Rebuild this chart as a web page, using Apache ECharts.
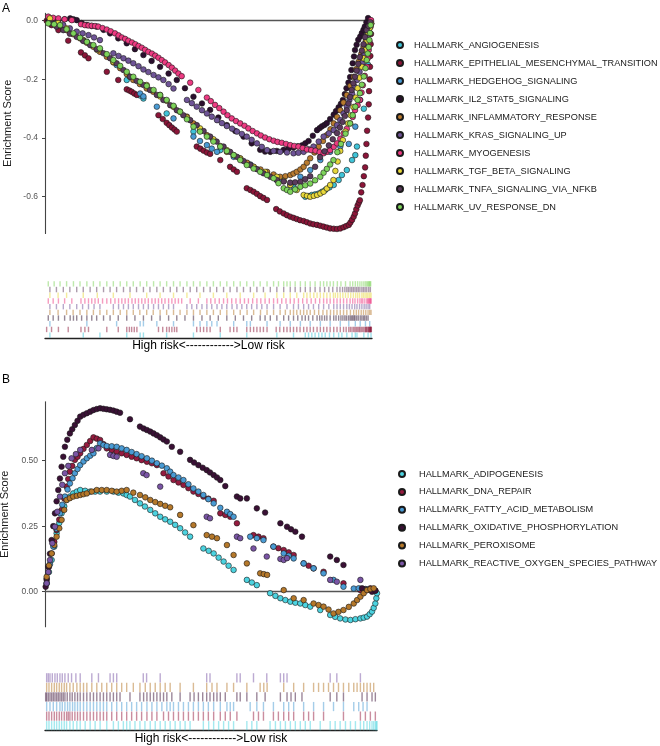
<!DOCTYPE html>
<html><head><meta charset="utf-8">
<script src="https://cdn.jsdelivr.net/npm/echarts@6/dist/echarts.min.js"></script>
<style>html,body{margin:0;padding:0;background:#fff}#c{width:660px;height:746px}</style>
</head><body><div id="c"></div>
<script>
// ---------- Panel A ----------
const namesA = ['HALLMARK_ANGIOGENESIS','HALLMARK_EPITHELIAL_MESENCHYMAL_TRANSITION','HALLMARK_HEDGEHOG_SIGNALING','HALLMARK_IL2_STAT5_SIGNALING','HALLMARK_INFLAMMATORY_RESPONSE','HALLMARK_KRAS_SIGNALING_UP','HALLMARK_MYOGENESIS','HALLMARK_TGF_BETA_SIGNALING','HALLMARK_TNFA_SIGNALING_VIA_NFKB','HALLMARK_UV_RESPONSE_DN'];
const colorsA = ['#40C4D8','#8B1538','#4A9BD4','#2B0F2E','#B87A2E','#6F5497','#EE3A82','#E8D83A','#5B3A5C','#7DD35A'];

const angiogenesis = [[15,0.002],[117,-0.066],[168,-0.100],[250,-0.202],[291,-0.255],[301,-0.265],[372,-0.316],[454,-0.378],[536,-0.441],[617,-0.486],[709,-0.543],[760,-0.566],[796,-0.600],[806,-0.598],[816,-0.594],[826,-0.592],[837,-0.589],[847,-0.583],[857,-0.577],[870,-0.568],[883,-0.560],[898,-0.543],[908,-0.526],[923,-0.509],[939,-0.475],[949,-0.458],[954,-0.429],[975,-0.300],[988,-0.150],[997,-0.010]];
const emt = [[5,0.000],[20,-0.015],[41,-0.032],[71,-0.068],[110,-0.108],[122,-0.118],[133,-0.128],[189,-0.174],[224,-0.202],[250,-0.234],[258,-0.238],[265,-0.242],[273,-0.248],[281,-0.253],[347,-0.322],[360,-0.335],[372,-0.348],[380,-0.356],[388,-0.364],[396,-0.371],[403,-0.378],[464,-0.429],[475,-0.436],[485,-0.443],[495,-0.449],[505,-0.454],[536,-0.475],[566,-0.498],[577,-0.507],[587,-0.515],[617,-0.571],[628,-0.577],[638,-0.583],[648,-0.590],[658,-0.598],[668,-0.604],[679,-0.611],[707,-0.642],[718,-0.650],[730,-0.657],[740,-0.663],[750,-0.668],[760,-0.672],[770,-0.676],[780,-0.680],[791,-0.683],[801,-0.687],[811,-0.691],[821,-0.694],[832,-0.696],[842,-0.699],[852,-0.702],[862,-0.705],[872,-0.708],[883,-0.709],[893,-0.710],[903,-0.708],[913,-0.704],[921,-0.700],[929,-0.696],[934,-0.688],[939,-0.679],[944,-0.668],[948,-0.657],[952,-0.643],[956,-0.630],[960,-0.620],[963,-0.612],[967,-0.585],[971,-0.560],[975,-0.530],[979,-0.500],[981,-0.460],[983,-0.420],[985,-0.375],[988,-0.330],[990,-0.285],[991,-0.240],[993,-0.200],[994,-0.157],[995,-0.120],[996,-0.080],[997,-0.045],[998,-0.010]];
const hedgehog = [[15,0.000],[128,-0.072],[219,-0.151],[291,-0.248],[301,-0.258],[342,-0.293],[393,-0.333],[454,-0.395],[474,-0.410],[495,-0.424],[510,-0.436],[526,-0.447],[577,-0.464],[617,-0.486],[628,-0.490],[679,-0.520],[719,-0.543],[750,-0.560],[781,-0.532],[811,-0.509],[842,-0.475],[872,-0.447],[903,-0.429],[929,-0.420],[949,-0.361],[964,-0.270],[980,-0.157],[993,-0.043]];
const il2stat5 = [[10,0.000],[25,0.001],[41,0.002],[60,0.005],[77,0.008],[87,0.005],[97,0.002],[112,-0.008],[128,-0.015],[143,-0.018],[158,-0.020],[179,-0.031],[199,-0.043],[224,-0.060],[250,-0.077],[275,-0.097],[301,-0.117],[326,-0.137],[352,-0.157],[378,-0.180],[403,-0.202],[428,-0.230],[454,-0.259],[480,-0.282],[505,-0.304],[530,-0.330],[556,-0.356],[582,-0.376],[607,-0.395],[632,-0.418],[658,-0.440],[673,-0.446],[689,-0.447],[709,-0.444],[730,-0.440],[745,-0.436],[760,-0.432],[773,-0.428],[786,-0.425],[796,-0.418],[806,-0.410],[819,-0.392],[832,-0.373],[840,-0.366],[847,-0.360],[855,-0.355],[862,-0.349],[872,-0.335],[883,-0.320],[890,-0.308],[898,-0.295],[905,-0.283],[911,-0.270],[917,-0.250],[922,-0.230],[928,-0.211],[933,-0.192],[937,-0.168],[941,-0.145],[945,-0.122],[948,-0.100],[953,-0.082],[958,-0.065],[964,-0.054],[969,-0.042],[974,-0.031],[978,-0.020],[983,-0.005],[988,0.009]];
const inflammatory = [[15,0.002],[40,-0.015],[66,-0.032],[86,-0.046],[107,-0.060],[128,-0.075],[148,-0.089],[168,-0.106],[189,-0.123],[209,-0.142],[230,-0.162],[250,-0.182],[270,-0.202],[290,-0.216],[311,-0.231],[331,-0.242],[352,-0.253],[372,-0.273],[393,-0.293],[413,-0.310],[434,-0.327],[454,-0.350],[474,-0.373],[495,-0.390],[515,-0.407],[536,-0.427],[556,-0.447],[577,-0.458],[597,-0.469],[618,-0.484],[638,-0.498],[659,-0.507],[679,-0.515],[699,-0.524],[719,-0.532],[735,-0.530],[750,-0.526],[760,-0.521],[770,-0.515],[781,-0.507],[791,-0.498],[801,-0.484],[811,-0.469],[824,-0.449],[837,-0.429],[850,-0.410],[862,-0.390],[873,-0.370],[883,-0.350],[893,-0.328],[903,-0.305],[913,-0.279],[923,-0.253],[934,-0.222],[944,-0.191],[952,-0.165],[959,-0.140],[967,-0.114],[974,-0.089],[981,-0.066],[988,-0.043],[993,-0.023],[997,-0.003]];
const krasUp = [[15,-0.003],[35,-0.008],[56,-0.015],[76,-0.026],[97,-0.037],[115,-0.043],[133,-0.049],[150,-0.057],[168,-0.066],[209,-0.111],[225,-0.120],[240,-0.128],[255,-0.136],[270,-0.145],[286,-0.155],[301,-0.166],[316,-0.175],[332,-0.185],[347,-0.193],[362,-0.202],[378,-0.216],[393,-0.231],[434,-0.270],[449,-0.281],[464,-0.293],[480,-0.305],[495,-0.316],[510,-0.327],[526,-0.339],[541,-0.349],[556,-0.359],[572,-0.368],[587,-0.378],[602,-0.386],[617,-0.395],[632,-0.406],[648,-0.418],[663,-0.430],[679,-0.441],[699,-0.444],[719,-0.447],[740,-0.449],[760,-0.452],[775,-0.450],[791,-0.447],[806,-0.438],[821,-0.429],[837,-0.412],[852,-0.395],[868,-0.384],[883,-0.373],[893,-0.356],[903,-0.339],[913,-0.316],[923,-0.293],[931,-0.270],[939,-0.248],[947,-0.225],[954,-0.202],[962,-0.174],[969,-0.145],[976,-0.110],[982,-0.077],[988,-0.048],[993,-0.020]];
const myogenesis = [[10,0.014],[25,0.010],[41,0.008],[60,0.005],[82,0.002],[110,-0.012],[122,-0.015],[133,-0.016],[143,-0.017],[153,-0.018],[163,-0.020],[176,-0.025],[189,-0.030],[201,-0.036],[214,-0.043],[225,-0.050],[235,-0.057],[245,-0.062],[255,-0.068],[266,-0.074],[276,-0.080],[286,-0.086],[296,-0.092],[306,-0.099],[316,-0.106],[327,-0.112],[337,-0.119],[347,-0.126],[357,-0.134],[367,-0.142],[378,-0.151],[388,-0.160],[398,-0.170],[408,-0.180],[418,-0.189],[444,-0.211],[469,-0.236],[495,-0.262],[507,-0.274],[520,-0.287],[533,-0.298],[546,-0.310],[558,-0.322],[571,-0.333],[584,-0.342],[597,-0.350],[610,-0.358],[622,-0.367],[635,-0.376],[648,-0.384],[660,-0.391],[673,-0.398],[686,-0.404],[699,-0.409],[711,-0.413],[724,-0.416],[737,-0.420],[750,-0.424],[762,-0.427],[775,-0.429],[788,-0.434],[801,-0.439],[814,-0.441],[827,-0.443],[840,-0.448],[852,-0.452],[862,-0.447],[872,-0.441],[883,-0.430],[893,-0.418],[903,-0.402],[913,-0.384],[923,-0.368],[933,-0.350],[941,-0.328],[948,-0.305],[956,-0.288],[963,-0.270],[968,-0.245],[972,-0.220],[978,-0.188],[984,-0.157],[987,-0.128],[990,-0.100],[992,-0.070],[994,-0.042],[996,-0.020],[997,0.002]];
const tgfBeta = [[15,0.008],[40,-0.008],[66,-0.026],[117,-0.066],[160,-0.100],[209,-0.140],[260,-0.191],[311,-0.219],[352,-0.258],[393,-0.293],[434,-0.330],[474,-0.367],[515,-0.404],[556,-0.441],[597,-0.470],[638,-0.498],[673,-0.515],[709,-0.532],[730,-0.546],[750,-0.560],[770,-0.577],[791,-0.594],[801,-0.597],[811,-0.600],[822,-0.597],[832,-0.594],[842,-0.589],[852,-0.583],[862,-0.572],[872,-0.560],[882,-0.543],[888,-0.512],[895,-0.480],[903,-0.444],[911,-0.407],[919,-0.378],[927,-0.350],[935,-0.322],[943,-0.294],[950,-0.262],[956,-0.230],[962,-0.194],[969,-0.157],[974,-0.128],[979,-0.100],[984,-0.070],[988,-0.042],[993,-0.025],[997,-0.009]];
const tnfaNfkb = [[15,-0.009],[35,-0.020],[56,-0.032],[76,-0.044],[97,-0.055],[117,-0.069],[138,-0.083],[158,-0.097],[179,-0.111],[199,-0.128],[219,-0.145],[240,-0.168],[260,-0.191],[280,-0.205],[301,-0.219],[321,-0.236],[342,-0.253],[362,-0.270],[383,-0.288],[403,-0.305],[423,-0.322],[444,-0.339],[464,-0.356],[485,-0.376],[505,-0.395],[525,-0.412],[546,-0.429],[566,-0.447],[587,-0.464],[607,-0.478],[628,-0.492],[648,-0.506],[668,-0.520],[689,-0.532],[709,-0.543],[730,-0.548],[750,-0.552],[765,-0.551],[781,-0.549],[796,-0.540],[811,-0.530],[826,-0.498],[841,-0.465],[855,-0.445],[868,-0.425],[880,-0.404],[893,-0.383],[902,-0.364],[910,-0.345],[917,-0.325],[923,-0.305],[928,-0.282],[933,-0.260],[938,-0.236],[943,-0.213],[948,-0.191],[953,-0.170],[958,-0.147],[963,-0.124],[969,-0.102],[974,-0.080],[979,-0.056],[984,-0.032],[990,-0.018],[995,-0.005]];
const uvResponseDn = [[10,-0.009],[28,-0.012],[46,-0.015],[66,-0.029],[87,-0.043],[107,-0.058],[128,-0.072],[148,-0.083],[168,-0.094],[189,-0.114],[209,-0.134],[230,-0.154],[250,-0.174],[270,-0.191],[291,-0.208],[311,-0.222],[332,-0.236],[352,-0.253],[372,-0.270],[393,-0.290],[413,-0.310],[434,-0.336],[454,-0.361],[474,-0.378],[495,-0.395],[515,-0.412],[536,-0.429],[556,-0.444],[577,-0.458],[597,-0.475],[617,-0.492],[638,-0.504],[658,-0.515],[679,-0.526],[699,-0.537],[714,-0.554],[730,-0.571],[740,-0.577],[750,-0.583],[765,-0.575],[781,-0.566],[796,-0.561],[811,-0.555],[826,-0.544],[842,-0.532],[852,-0.518],[862,-0.505],[872,-0.490],[882,-0.475],[894,-0.448],[905,-0.420],[919,-0.385],[933,-0.350],[941,-0.322],[949,-0.293],[956,-0.270],[963,-0.247],[969,-0.218],[975,-0.190],[980,-0.162],[984,-0.134],[987,-0.112],[990,-0.090],[992,-0.066],[994,-0.042],[996,-0.015]];
const seriesA = [angiogenesis, emt, hedgehog, il2stat5, inflammatory, krasUp, myogenesis, tgfBeta, tnfaNfkb, uvResponseDn];
const ticksA = [-0.6, -0.4, -0.2, 0.0];

// ---------- Panel B ----------
const namesB = ['HALLMARK_ADIPOGENESIS','HALLMARK_DNA_REPAIR','HALLMARK_FATTY_ACID_METABOLISM','HALLMARK_OXIDATIVE_PHOSPHORYLATION','HALLMARK_PEROXISOME','HALLMARK_REACTIVE_OXYGEN_SPECIES_PATHWAY'];
const colorsB = ['#4CD3E0','#951B3F','#4A9BD4','#3A1035','#B5782A','#7A55A5'];

const adipogenesis = [[5,0.032],[12,0.075],[20,0.121],[28,0.172],[35,0.223],[43,0.262],[50,0.299],[58,0.326],[65,0.350],[75,0.363],[85,0.375],[96,0.382],[106,0.388],[121,0.385],[136,0.382],[151,0.382],[166,0.382],[186,0.382],[206,0.382],[221,0.378],[236,0.375],[246,0.369],[256,0.363],[271,0.350],[286,0.337],[301,0.325],[317,0.312],[332,0.299],[347,0.286],[362,0.276],[377,0.267],[392,0.255],[407,0.242],[422,0.226],[437,0.210],[477,0.165],[493,0.156],[508,0.146],[523,0.130],[538,0.115],[553,0.099],[568,0.083],[608,0.045],[623,0.035],[638,0.025],[678,-0.006],[694,-0.016],[709,-0.025],[724,-0.032],[739,-0.038],[754,-0.042],[769,-0.045],[784,-0.051],[799,-0.057],[829,-0.070],[859,-0.089],[874,-0.096],[889,-0.102],[905,-0.106],[920,-0.108],[935,-0.105],[950,-0.102],[960,-0.099],[970,-0.095],[978,-0.086],[985,-0.076],[990,-0.062],[995,-0.045],[998,-0.025],[1000,-0.006]];
const dnaRepair = [[5,0.045],[12,0.095],[20,0.146],[28,0.190],[35,0.235],[43,0.275],[50,0.312],[58,0.356],[65,0.401],[70,0.430],[75,0.458],[82,0.480],[90,0.503],[98,0.515],[106,0.528],[116,0.545],[126,0.560],[136,0.575],[146,0.589],[156,0.584],[166,0.579],[176,0.563],[186,0.547],[201,0.540],[216,0.534],[231,0.528],[246,0.522],[261,0.515],[276,0.509],[291,0.502],[307,0.496],[322,0.490],[337,0.483],[357,0.452],[372,0.440],[387,0.426],[402,0.417],[417,0.407],[432,0.395],[447,0.382],[462,0.373],[477,0.363],[492,0.355],[508,0.347],[528,0.299],[543,0.293],[558,0.286],[578,0.261],[628,0.216],[643,0.210],[658,0.204],[688,0.172],[703,0.166],[719,0.159],[734,0.150],[749,0.140],[779,0.108],[794,0.099],[809,0.089],[839,0.076],[899,0.032],[950,0.006],[965,0.010],[980,0.013],[995,0.004]];
const fattyAcid = [[5,0.032],[15,0.105],[25,0.172],[35,0.240],[45,0.299],[52,0.332],[60,0.363],[68,0.390],[75,0.413],[83,0.433],[90,0.452],[98,0.468],[106,0.483],[116,0.497],[126,0.509],[136,0.519],[146,0.528],[156,0.548],[166,0.566],[176,0.560],[186,0.556],[201,0.555],[216,0.553],[231,0.547],[246,0.541],[261,0.533],[276,0.525],[291,0.517],[307,0.509],[322,0.500],[337,0.490],[352,0.481],[367,0.471],[377,0.458],[387,0.445],[402,0.436],[417,0.426],[432,0.410],[447,0.394],[462,0.382],[477,0.369],[492,0.353],[508,0.337],[528,0.320],[548,0.305],[558,0.296],[568,0.286],[618,0.210],[638,0.204],[658,0.197],[688,0.172],[719,0.146],[734,0.137],[749,0.127],[779,0.108],[809,0.089],[839,0.070],[869,0.045],[899,0.019],[930,0.012],[945,0.013],[958,0.010],[970,0.009]];
const oxidative = [[2,0.019],[5,0.050],[10,0.095],[15,0.145],[20,0.197],[25,0.250],[30,0.299],[35,0.345],[40,0.388],[45,0.432],[50,0.477],[55,0.515],[60,0.553],[67,0.580],[75,0.604],[82,0.620],[90,0.636],[98,0.652],[106,0.668],[116,0.675],[126,0.681],[136,0.687],[146,0.693],[156,0.697],[166,0.700],[176,0.698],[186,0.696],[196,0.694],[206,0.691],[216,0.687],[226,0.683],[256,0.658],[286,0.630],[297,0.623],[307,0.617],[317,0.611],[327,0.604],[337,0.597],[347,0.589],[357,0.581],[367,0.573],[382,0.553],[407,0.534],[437,0.503],[449,0.493],[462,0.483],[475,0.473],[487,0.464],[497,0.455],[508,0.445],[518,0.436],[528,0.426],[543,0.403],[578,0.363],[588,0.356],[608,0.356],[638,0.318],[663,0.302],[709,0.261],[729,0.248],[741,0.238],[754,0.229],[774,0.210],[859,0.134],[879,0.121],[899,0.102],[955,0.013],[970,0.006],[985,0.000],[995,0.004]];
const peroxisome = [[5,0.057],[12,0.100],[20,0.146],[28,0.178],[35,0.210],[43,0.242],[50,0.274],[58,0.312],[65,0.350],[75,0.357],[85,0.363],[96,0.366],[106,0.369],[116,0.372],[126,0.375],[141,0.382],[156,0.388],[171,0.388],[186,0.388],[201,0.385],[216,0.382],[231,0.385],[246,0.388],[266,0.378],[286,0.369],[302,0.360],[317,0.350],[332,0.342],[347,0.335],[362,0.328],[377,0.322],[407,0.293],[447,0.254],[487,0.216],[503,0.210],[518,0.204],[548,0.178],[568,0.140],[608,0.108],[648,0.070],[659,0.067],[669,0.064],[719,0.006],[749,-0.025],[779,-0.032],[809,-0.045],[824,-0.051],[839,-0.057],[854,-0.068],[869,-0.083],[884,-0.077],[899,-0.070],[915,-0.058],[930,-0.045],[940,-0.032],[950,-0.019],[960,-0.006],[970,0.006],[980,0.010],[990,0.013]];
const reactiveOxygen = [[5,0.032],[10,0.075],[15,0.121],[22,0.185],[30,0.248],[37,0.305],[45,0.363],[52,0.408],[60,0.452],[70,0.480],[80,0.509],[93,0.525],[106,0.541],[141,0.541],[161,0.547],[196,0.522],[206,0.518],[216,0.515],[296,0.452],[306,0.445],[347,0.401],[487,0.286],[497,0.280],[578,0.210],[588,0.204],[628,0.165],[668,0.134],[709,0.125],[719,0.121],[729,0.128],[859,0.045],[879,0.038],[950,0.045]];
const seriesB = [adipogenesis, dnaRepair, fattyAcid, oxidative, peroxisome, reactiveOxygen];
const ticksB = [0.00, 0.25, 0.50];

const rankAxisLabel = 'High risk<------------>Low risk';
const FONT = 'Liberation Sans, Arial, Helvetica, sans-serif';

// ---------- Build option ----------
function mainY(min, max, ticks, digits) {
  return {
    type: 'value', min: min, max: max,
    name: 'Enrichment Score', nameLocation: 'middle', nameGap: 32,
    nameTextStyle: { fontFamily: FONT, fontSize: 11, color: '#1a1a1a' },
    axisLine: { show: true, lineStyle: { color: '#444', width: 1.1 } },
    axisTick: { show: true, length: 3, customValues: ticks, lineStyle: { color: '#444', width: 1 } },
    axisLabel: { show: true, customValues: ticks, margin: 7, fontFamily: FONT, fontSize: 8.5, color: '#555',
      formatter: v => Number(v).toFixed(digits) },
    splitLine: { show: false }
  };
}
function mainX(gridIndex) {
  return {
    type: 'value', gridIndex: gridIndex, min: 0, max: 1000,
    axisLine: { show: true, onZero: true, lineStyle: { color: '#555', width: 1.3 } },
    axisTick: { show: false }, axisLabel: { show: false }, splitLine: { show: false }
  };
}
function rugX(gridIndex) {
  return {
    type: 'value', gridIndex: gridIndex, min: 0, max: 1000, position: 'bottom',
    name: rankAxisLabel, nameLocation: 'middle', nameGap: 2,
    nameTextStyle: { fontFamily: FONT, fontSize: 12, color: '#000', verticalAlign: 'top' },
    axisLine: { show: true, onZero: false, lineStyle: { color: '#222', width: 1.3 } },
    axisTick: { show: false }, axisLabel: { show: false }, splitLine: { show: false }
  };
}
function rugY(gridIndex, names) {
  return { type: 'category', gridIndex: gridIndex, data: names, show: false,
    axisLine: { show: false }, axisTick: { show: false }, axisLabel: { show: false } };
}

const series = [];
function addPanel(names, colors, data, mainIdx, rugIdx, rugH) {
  names.forEach((n, i) => {
    series.push({
      type: 'scatter', name: n, xAxisIndex: mainIdx, yAxisIndex: mainIdx,
      data: data[i], symbol: 'circle', symbolSize: 5.6,
      itemStyle: { color: colors[i], borderColor: '#1a1a1a', borderWidth: 0.6, opacity: 1 },
      emphasis: { disabled: true }, silent: true, z: 2
    });
  });
  names.forEach((n, i) => {
    series.push({
      type: 'scatter', name: 'rug_' + n, xAxisIndex: rugIdx, yAxisIndex: rugIdx,
      data: data[i].map(p => [p[0], n]), symbol: 'rect', symbolSize: [1.4, rugH],
      itemStyle: { color: colors[i], opacity: 0.5 },
      emphasis: { disabled: true }, silent: true
    });
  });
}
addPanel(namesA, colorsA, seriesA, 0, 1, 5.4);
addPanel(namesB, colorsB, seriesB, 2, 3, 9.2);

const legendCommon = {
  orient: 'vertical', itemWidth: 6, itemHeight: 6, icon: 'circle',
  selectedMode: false,
  textStyle: { fontFamily: FONT, fontSize: 9.2, color: '#1a1a1a', lineHeight: 12 }
};
const gridCommon = { containLabel: false, outerBoundsMode: 'none' };

const option = {
  animation: false,
  backgroundColor: '#ffffff',
  title: [
    { text: 'A', left: 2, top: 3, padding: 0, textStyle: { fontFamily: FONT, fontSize: 12, fontWeight: 'normal', color: '#000' } },
    { text: 'B', left: 2, top: 374, padding: 0, textStyle: { fontFamily: FONT, fontSize: 12, fontWeight: 'normal', color: '#000' } }
  ],
  legend: [
    Object.assign({}, legendCommon, { data: namesA, left: 396, top: 39, itemGap: 6, padding: 0,
      textStyle: Object.assign({}, legendCommon.textStyle, { padding: [0, 0, 0, 6] }) }),
    Object.assign({}, legendCommon, { data: namesB, left: 398, top: 468, itemGap: 5.9, padding: 0,
      textStyle: Object.assign({}, legendCommon.textStyle, { padding: [0, 0, 0, 9] }) })
  ],
  grid: [
    Object.assign({ left: 45, top: 13.4, width: 327, height: 220 }, gridCommon),
    Object.assign({ left: 45, top: 281, width: 327, height: 57 }, gridCommon),
    Object.assign({ left: 45, top: 401.7, width: 332, height: 225.1 }, gridCommon),
    Object.assign({ left: 45, top: 673, width: 332, height: 57.5 }, gridCommon)
  ],
  xAxis: [ mainX(0), rugX(1), mainX(2), rugX(3) ],
  yAxis: [
    Object.assign(mainY(-0.725, 0.025, ticksA, 1), { gridIndex: 0 }),
    rugY(1, namesA),
    Object.assign(mainY(-0.134, 0.725, ticksB, 2), { gridIndex: 2 }),
    rugY(3, namesB)
  ],
  series: series
};

const chart = echarts.init(document.getElementById('c'), null, { renderer: 'canvas' });
chart.setOption(option);
</script>
</body></html>
